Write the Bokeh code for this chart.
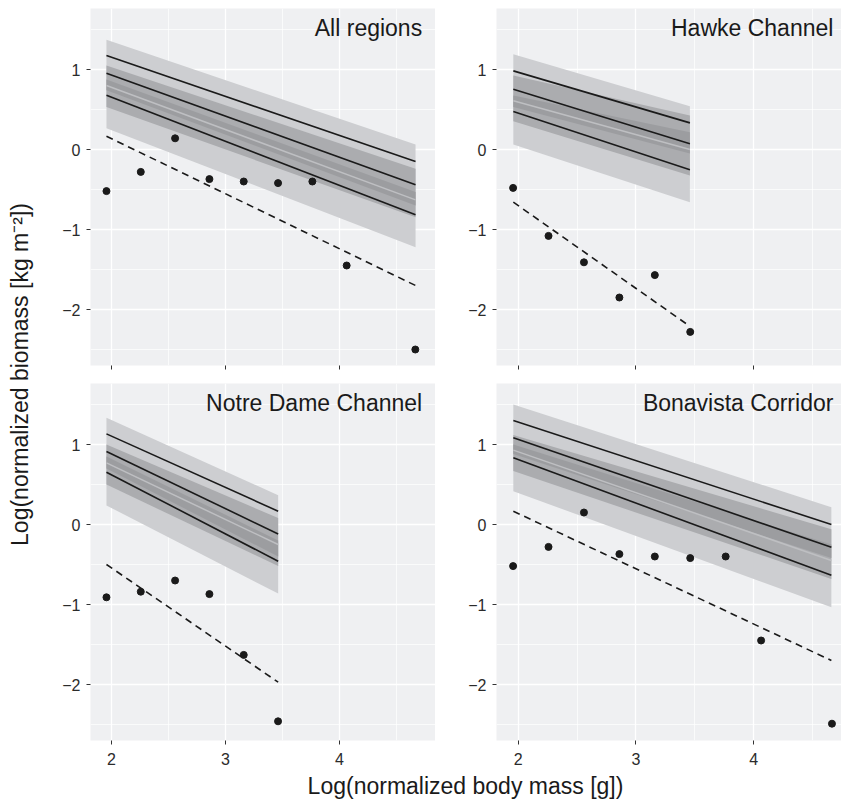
from math import pi
from bokeh.plotting import figure
from bokeh.layouts import row, column
from bokeh.models import Range1d, FixedTicker, CustomJSTickFormatter, Label
from bokeh.embed import file_html
from bokeh.resources import INLINE

FONT = "Liberation Sans"
BG = "#EFF0F2"

panel_names = ["All regions", "Hawke Channel", "Notre Dame Channel", "Bonavista Corridor"]

# observed biomass points per panel
obs_x_all = [1.956, 2.257, 2.558, 2.859, 3.160, 3.461, 3.762, 4.063, 4.665]
obs_y_all = [-0.52, -0.28, 0.14, -0.37, -0.40, -0.42, -0.40, -1.45, -2.50]
obs_x_hawke = [1.956, 2.257, 2.558, 2.859, 3.160, 3.461]
obs_y_hawke = [-0.48, -1.08, -1.41, -1.85, -1.57, -2.28]
obs_x_notre = [1.956, 2.257, 2.558, 2.859, 3.160, 3.461]
obs_y_notre = [-0.91, -0.84, -0.70, -0.87, -1.63, -2.46]
obs_x_bona = [1.956, 2.257, 2.558, 2.859, 3.160, 3.461, 3.762, 4.063, 4.665]
obs_y_bona = [-0.52, -0.28, 0.15, -0.37, -0.40, -0.42, -0.40, -1.45, -2.49]
obs_x = [obs_x_all, obs_x_hawke, obs_x_notre, obs_x_bona]
obs_y = [obs_y_all, obs_y_hawke, obs_y_notre, obs_y_bona]

# model predictions: (value at start, value at end) per panel
fit_x_start = [1.956, 1.958, 1.956, 1.958]
fit_x_end = [4.667, 3.458, 3.462, 4.660]
outer_hi = [(1.371, 0.063), (1.190, 0.540), (1.333, 0.366), (1.500, 0.216)]
outer_lo = [(0.266, -1.221), (0.063, -0.658), (0.238, -0.863), (0.416, -1.034)]
mid_hi = [(1.050, -0.240), (0.925, 0.425), (1.000, 0.080), (1.120, -0.060)]
mid_lo = [(0.530, -0.846), (0.354, -0.325), (0.500, -0.520), (0.670, -0.680)]
core_hi = [(0.875, -0.530), (0.675, 0.216), (0.850, -0.200), (1.000, -0.250)]
core_lo = [(0.740, -0.700), (0.530, -0.050), (0.700, -0.400), (0.880, -0.420)]
alt_line = [(0.800, -0.630), (0.610, 0.000), (0.770, -0.250), (0.930, -0.450)]
line_up = [(1.175, -0.150), (0.983, 0.333), (1.133, 0.166), (1.300, 0.000)]
line_mid = [(0.954, -0.441), (0.754, 0.071), (0.913, -0.118), (1.083, -0.284)]
line_lo = [(0.679, -0.816), (0.475, -0.254), (0.654, -0.459), (0.833, -0.634)]
dashed_fit = [(0.166, -1.700), (-0.658, -2.210), (-0.500, -1.971), (0.166, -1.700)]

x_ticks = [2, 3, 4]
x_minor = [1.5, 2.5, 3.5, 4.5]
y_ticks = [-2, -1, 0, 1]
y_minor = [-2.5, -1.5, -0.5, 0.5, 1.5]

y_title = "Log(normalized biomass [kg m\u207b\u00b2])"
x_title = "Log(normalized body mass [g])"


def make_panel(i, frame_w, border_left, x_start, x_end, border_top, border_bottom,
               show_xlabels, title_x):
    p = figure(frame_width=frame_w, frame_height=357,
               x_range=Range1d(x_start, x_end), y_range=Range1d(-2.70, 1.7625),
               output_backend="svg", toolbar_location=None,
               min_border_left=border_left, min_border_right=0,
               min_border_top=border_top, min_border_bottom=border_bottom,
               background_fill_color=BG, border_fill_color="white",
               outline_line_color=None)
    p.xaxis.ticker = FixedTicker(ticks=x_ticks, minor_ticks=x_minor)
    p.yaxis.ticker = FixedTicker(ticks=y_ticks, minor_ticks=y_minor)
    p.yaxis.formatter = CustomJSTickFormatter(
        code="return tick < 0 ? '\u2212' + Math.abs(tick) : String(tick);")
    for ax in (p.xaxis, p.yaxis):
        ax.axis_line_color = None
        ax.major_tick_line_color = "#333333"
        ax.major_tick_out = 4
        ax.major_tick_in = 0
        ax.minor_tick_line_color = None
        ax.major_label_text_font = FONT
        ax.major_label_text_font_size = "16px"
        ax.major_label_text_color = "#2b2b2b"
    p.yaxis.major_label_standoff = 6
    p.xaxis.major_label_standoff = 8
    if not show_xlabels:
        p.xaxis.formatter = CustomJSTickFormatter(code="return '';")
        p.xaxis.major_label_text_font_size = "0px"
        p.xaxis.major_label_standoff = 0
    for g in (p.xgrid, p.ygrid):
        g.grid_line_color = "white"
        g.grid_line_width = 1.3
        g.minor_grid_line_color = "white"
        g.minor_grid_line_width = 0.7

    xs = [fit_x_start[i], fit_x_end[i]]
    p.varea(x=xs, y1=list(outer_lo[i]), y2=list(outer_hi[i]), fill_color="#CDCED1")
    p.varea(x=xs, y1=list(mid_lo[i]), y2=list(mid_hi[i]), fill_color="#ABACAF")
    p.varea(x=xs, y1=list(core_lo[i]), y2=list(core_hi[i]), fill_color="#9C9DA0")
    p.line(x=xs, y=list(alt_line[i]), line_color="#BEBFC2", line_width=1.5)
    for ln in (line_up, line_mid, line_lo):
        p.line(x=xs, y=list(ln[i]), line_color="#1a1a1a", line_width=1.6)
    p.line(x=xs, y=list(dashed_fit[i]), line_color="#1a1a1a", line_width=1.6,
           line_dash="7 5")
    p.scatter(x=obs_x[i], y=obs_y[i], size=7, fill_color="#1a1a1a",
              line_color="#1a1a1a")
    p.add_layout(Label(x=title_x, y=1.525, text=panel_names[i], text_align="right",
                       text_baseline="alphabetic", text_font=FONT,
                       text_font_size="23px", text_color="#1a1a1a"))
    return p


tl = make_panel(0, 345, 52, 1.816, 4.842, 8, 18, False, 4.725)
tr = make_panel(1, 345, 61, 1.815, 4.746, 8, 18, False, 4.677)
bl = make_panel(2, 345, 52, 1.816, 4.842, 0, 32, True, 4.725)
br = make_panel(3, 345, 61, 1.815, 4.746, 0, 32, True, 4.677)


def blank(w, h):
    f = figure(frame_width=w, frame_height=h, x_range=Range1d(0, w), y_range=Range1d(0, h),
               output_backend="svg", toolbar_location=None, min_border=0,
               outline_line_color=None, border_fill_color="white",
               background_fill_color="white")
    f.axis.visible = False
    f.grid.visible = False
    return f


ylab = blank(38, 740)
ylab.add_layout(Label(x=19, y=366, text=y_title, angle=pi / 2, text_align="center",
                      text_baseline="middle", text_font=FONT, text_font_size="23px",
                      text_color="#1a1a1a"))
xlab = blank(803, 30)
xlab.add_layout(Label(x=427, y=17, text=x_title, text_align="center",
                      text_baseline="alphabetic", text_font=FONT, text_font_size="23px",
                      text_color="#1a1a1a"))

layout = row(ylab, column(row(tl, tr), row(bl, br), xlab))
open("out.html", "w").write(file_html(layout, INLINE))
